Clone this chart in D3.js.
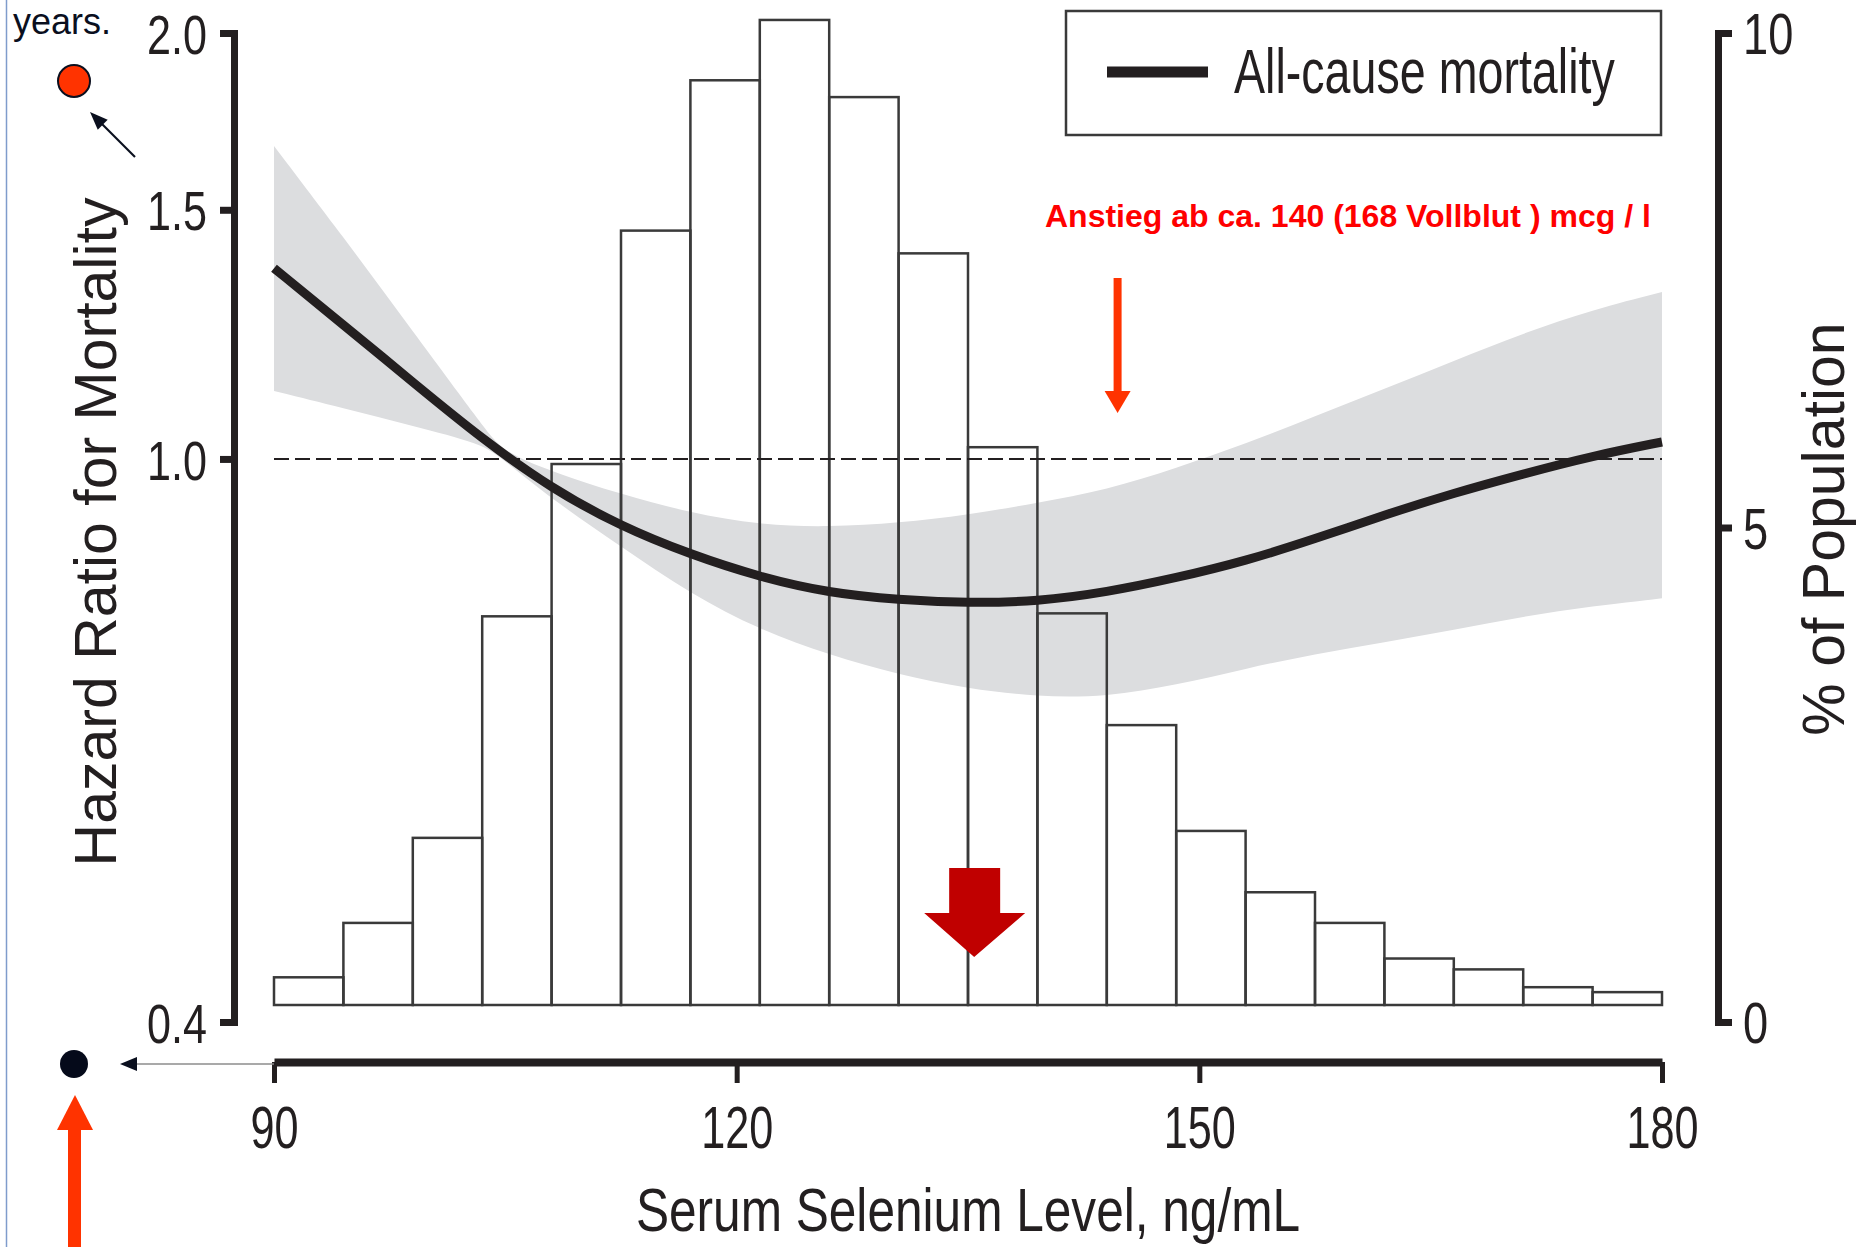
<!DOCTYPE html>
<html>
<head>
<meta charset="utf-8">
<script src="https://cdn.jsdelivr.net/npm/d3@7"></script>
<style>
  body { margin: 0; background: #fff; }
  svg { display: block; }
  text { font-family: "Liberation Sans", Arial, sans-serif; }
</style>
</head>
<body>
<svg id="chart" width="1863" height="1247"></svg>
<script>
// ---- data ----
const binStarts = [90, 94.5, 99, 103.5, 108, 112.5, 117, 121.5, 126, 130.5,
                   135, 139.5, 144, 148.5, 153, 157.5, 162, 166.5, 171, 175.5];
const binWidth = 4.5;
const popPct = [0.28, 0.83, 1.69, 3.93, 5.47, 7.83, 9.35, 9.96, 9.18, 7.60,
                5.64, 3.96, 2.83, 1.76, 1.14, 0.83, 0.47, 0.36, 0.18, 0.13];

// hazard ratio spline
const curveX = [90, 94.5, 99, 103.5, 108, 112.5, 117, 121.5, 126, 130.5, 135,
                139.5, 144, 148.5, 153, 157.5, 162, 166.5, 171, 175.5, 180];
const hrMid = [1.364, 1.244, 1.133, 1.033, 0.953, 0.896, 0.856, 0.825, 0.804, 0.795, 0.791,
               0.793, 0.805, 0.824, 0.847, 0.878, 0.913, 0.946, 0.976, 1.005, 1.028];

// 95% CI band
const bandX = [90, 94.5, 99, 103.5, 104.8, 108, 112.5, 117, 121.5, 126, 130.5, 135,
               139.5, 144, 148.5, 153, 157.5, 162, 166.5, 171, 175.5, 180];
const hrUpper = [1.664, 1.435, 1.231, 1.057, 1.012, 0.98, 0.944, 0.916, 0.898, 0.895, 0.901, 0.913,
                 0.931, 0.951, 0.985, 1.025, 1.072, 1.121, 1.173, 1.227, 1.275, 1.312];
const hrLower = [1.117, 1.086, 1.055, 1.025, 1.0, 0.937, 0.867, 0.803, 0.757, 0.727, 0.704, 0.688,
                 0.679, 0.679, 0.692, 0.711, 0.728, 0.742, 0.757, 0.774, 0.787, 0.797];

const xTicks = [90, 120, 150, 180];
const hrTicks = [0.4, 1.0, 1.5, 2.0];
const pctTicks = [0, 5, 10];

const ink = "#231f20";
const svg = d3.select("#chart");

// scales
const x = d3.scaleLinear().domain([90, 180]).range([274, 1662]);
const yHR = d3.scaleLog().domain([0.4, 2]).range([1022, 33]);
const yPct = d3.scaleLinear().domain([0, 10]).range([1022, 33]);
const histBase = 1005; // bars sit a bit above the right axis zero
const yHist = d3.scaleLinear().domain([0, 10]).range([histBase, histBase - (yPct(0) - yPct(10))]);

svg.append("rect").attr("width", 1863).attr("height", 1247).attr("fill", "#fff");

// thin page border at left
svg.append("line").attr("x1", 6.5).attr("x2", 6.5).attr("y1", 0).attr("y2", 1247)
    .attr("stroke", "#7f9ccc").attr("stroke-width", 1.5);

// confidence band
const band = bandX.map((v, i) => ({ x: v, lo: hrLower[i], hi: hrUpper[i] }));
svg.append("path").datum(band)
    .attr("d", d3.area().x(d => x(d.x)).y0(d => yHR(d.lo)).y1(d => yHR(d.hi))
        .curve(d3.curveBasis))
    .attr("fill", "#dcdddf");

// histogram
svg.append("g").selectAll("rect")
    .data(binStarts.map((b, i) => ({ b, v: popPct[i] })))
    .join("rect")
    .attr("x", d => x(d.b))
    .attr("width", d => x(d.b + binWidth) - x(d.b))
    .attr("y", d => yHist(d.v))
    .attr("height", d => histBase - yHist(d.v))
    .attr("fill", "none")
    .attr("stroke", "#3a3a3a")
    .attr("stroke-width", 2.5);

// reference line HR = 1
svg.append("line")
    .attr("x1", x(90)).attr("x2", x(180))
    .attr("y1", yHR(1)).attr("y2", yHR(1))
    .attr("stroke", ink).attr("stroke-width", 2)
    .attr("stroke-dasharray", "15,6");

// spline
svg.append("path").datum(curveX.map((v, i) => ({ x: v, y: hrMid[i] })))
    .attr("d", d3.line().x(d => x(d.x)).y(d => yHR(d.y)).curve(d3.curveBasis))
    .attr("fill", "none").attr("stroke", ink).attr("stroke-width", 9);

// left axis
const axL = svg.append("g").attr("transform", "translate(234,0)")
    .call(d3.axisLeft(yHR).tickValues(hrTicks).tickFormat(d3.format(".1f")).tickSize(14).tickSizeOuter(14))
    .attr("font-size", null).attr("font-family", null);
axL.select(".domain").attr("stroke", ink).attr("stroke-width", 7).attr("stroke-linejoin", "miter");
axL.selectAll(".tick line").attr("stroke", ink).attr("stroke-width", 7);
axL.selectAll(".tick text").attr("x", 0).attr("dy", "0.36em")
    .attr("transform", "translate(-27,0) scale(0.77,1)")
    .attr("fill", ink).style("font-size", "56px");

// right axis
const axR = svg.append("g").attr("transform", "translate(1718,0)")
    .call(d3.axisRight(yPct).tickValues(pctTicks).tickSize(14).tickSizeOuter(14))
    .attr("font-size", null).attr("font-family", null);
axR.select(".domain").attr("stroke", ink).attr("stroke-width", 7).attr("stroke-linejoin", "miter");
axR.selectAll(".tick line").attr("stroke", ink).attr("stroke-width", 7);
axR.selectAll(".tick text").attr("x", 0).attr("dy", "0.36em")
    .attr("transform", "translate(25,0) scale(0.78,1)")
    .attr("fill", ink).style("font-size", "58px");

// bottom axis
const axB = svg.append("g").attr("transform", "translate(0,1062)")
    .call(d3.axisBottom(x).tickValues(xTicks).tickSize(21).tickSizeOuter(0))
    .attr("font-size", null).attr("font-family", null);
axB.select(".domain").attr("stroke", ink).attr("stroke-width", 8);
axB.selectAll(".tick line").attr("stroke", ink).attr("stroke-width", 5);
axB.selectAll(".tick text").attr("y", 0).attr("dy", null)
    .attr("transform", "translate(0,86) scale(0.72,1)")
    .attr("fill", ink).style("font-size", "60px");

// axis titles
svg.append("text")
    .attr("transform", "translate(968,1231) scale(0.8,1)")
    .attr("text-anchor", "middle").attr("fill", ink)
    .style("font-size", "62px")
    .text("Serum Selenium Level, ng/mL");

svg.append("text")
    .attr("transform", "translate(116,532) rotate(-90)")
    .attr("text-anchor", "middle").attr("fill", ink)
    .style("font-size", "59px")
    .text("Hazard Ratio for Mortality");

svg.append("text")
    .attr("transform", "translate(1844,529) rotate(-90)")
    .attr("text-anchor", "middle").attr("fill", ink)
    .style("font-size", "59px")
    .text("% of Population");

// legend
svg.append("rect").attr("x", 1066).attr("y", 11).attr("width", 595).attr("height", 124)
    .attr("fill", "#fff").attr("stroke", "#3a3a3a").attr("stroke-width", 2.5);
svg.append("line").attr("x1", 1107).attr("x2", 1208).attr("y1", 72).attr("y2", 72)
    .attr("stroke", ink).attr("stroke-width", 11);
svg.append("text")
    .attr("transform", "translate(1234,93) scale(0.74,1)")
    .attr("fill", ink).style("font-size", "63px")
    .text("All-cause mortality");

// red annotation
svg.append("text")
    .attr("x", 1045).attr("y", 227)
    .attr("fill", "#ff0000").style("font-size", "32px").style("font-weight", "bold")
    .text("Anstieg ab ca. 140 (168 Vollblut ) mcg / l");

const ax1 = x(144.7);
svg.append("line").attr("x1", ax1).attr("x2", ax1).attr("y1", 278).attr("y2", 393)
    .attr("stroke", "#ff3300").attr("stroke-width", 8);
svg.append("polygon")
    .attr("points", [[ax1 - 13, 391], [ax1 + 13, 391], [ax1, 413]].join(" "))
    .attr("fill", "#ff3300");

// dark red block arrow
const bx = x(135.4);
svg.append("polygon")
    .attr("points", [[bx - 25, 868], [bx + 26, 868], [bx + 26, 913], [bx + 51, 913],
                     [bx, 957], [bx - 50, 913], [bx - 25, 913]].join(" "))
    .attr("fill", "#c00000");

// left margin decorations
svg.append("text").attr("x", 13).attr("y", 34)
    .attr("fill", "#0a0f1e").style("font-size", "36px").text("years.");

svg.append("circle").attr("cx", 74).attr("cy", 81).attr("r", 16)
    .attr("fill", "#ff3300").attr("stroke", "#0a0f1e").attr("stroke-width", 2);

function arrowHead(x1, y1, x2, y2, len, half) {
    const dx = x2 - x1, dy = y2 - y1, L = Math.hypot(dx, dy);
    const ux = dx / L, uy = dy / L;
    const bx0 = x2 - ux * len, by0 = y2 - uy * len;
    return [[x2, y2], [bx0 - uy * half, by0 + ux * half], [bx0 + uy * half, by0 - ux * half]].join(" ");
}

svg.append("line").attr("x1", 135).attr("y1", 157).attr("x2", 100).attr("y2", 122)
    .attr("stroke", "#0a0f1e").attr("stroke-width", 2.2);
svg.append("polygon").attr("points", arrowHead(135, 157, 90, 112, 18, 7)).attr("fill", "#0a0f1e");

svg.append("circle").attr("cx", 74).attr("cy", 1064).attr("r", 14).attr("fill", "#050a1a");
svg.append("line").attr("x1", x(90)).attr("x2", 135).attr("y1", 1064).attr("y2", 1064)
    .attr("stroke", "#8c8c8c").attr("stroke-width", 1.5);
svg.append("polygon").attr("points", arrowHead(200, 1064, 120, 1064, 17, 7)).attr("fill", "#0a0f1e");

svg.append("rect").attr("x", 68).attr("y", 1128).attr("width", 13).attr("height", 130).attr("fill", "#ff3300");
svg.append("polygon").attr("points", [[57, 1130], [93, 1130], [75, 1095]].join(" ")).attr("fill", "#ff3300");
</script>
</body>
</html>
